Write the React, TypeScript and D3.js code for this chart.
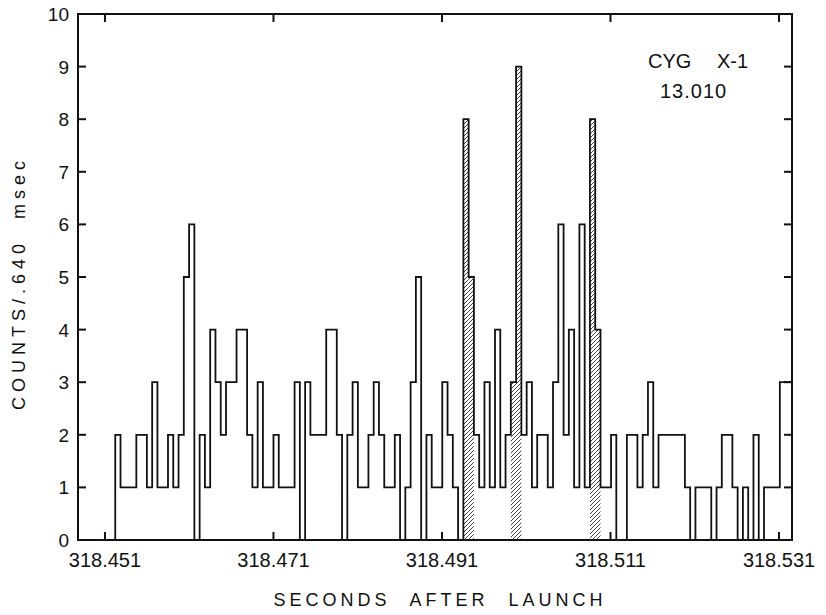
import { scaleLinear, line } from 'd3';

// counts per 0.640 ms bin
const counts = [
  2, 1, 1, 1, 2, 2, 1, 3, 1, 1,
  2, 1, 2, 5, 6, 0, 2, 1, 4, 3,
  2, 3, 3, 4, 4, 2, 1, 3, 1, 1,
  2, 1, 1, 1, 3, 0, 3, 2, 2, 2,
  4, 4, 2, 0, 2, 3, 1, 1, 2, 3,
  2, 1, 1, 2, 0, 1, 3, 5, 0, 2,
  1, 1, 3, 2, 1, 0, 8, 5, 2, 1,
  3, 1, 4, 1, 2, 3, 9, 2, 3, 1,
  2, 2, 1, 3, 6, 2, 4, 1, 6, 1,
  8, 4, 1, 1, 2, 0, 0, 2, 2, 1,
  2, 3, 1, 2, 2, 2, 2, 2, 1, 0,
  1, 1, 1, 0, 1, 2, 2, 1, 0, 1,
  0, 2, 0, 1, 1, 1, 3, 3,
];
// bins that are shaded (bursts)
const burstBins = [66, 67, 75, 76, 90, 91];
const startTime = 318.45222;
const binWidth = 0.000626;

const xTicks = [318.451, 318.471, 318.491, 318.511, 318.531];
const xTickLabels = ['318.451', '318.471', '318.491', '318.511', '318.531'];
const yTicks = [0, 1, 2, 3, 4, 5, 6, 7, 8, 9, 10];

const W = 826;
const H = 615;
const left = 78, right = 792, top = 14, bottom = 540;
const ink = '#111';

export default function App() {
  const x = scaleLinear().domain([318.4478, 318.53254]).range([left, right]);
  const y = scaleLinear().domain([0, 10]).range([bottom, top]);

  const pts: Array<[number, number]> = [[startTime, 0]];
  counts.forEach((c, i) => {
    const t0 = startTime + i * binWidth;
    pts.push([t0, c]);
    pts.push([t0 + binWidth, c]);
  });
  const stepPath = line<[number, number]>().x(d => x(d[0])).y(d => y(d[1]))(pts) || '';

  return (
    <svg width={W} height={H} style={{ position: 'absolute', left: 0, top: 0, background: '#fff' }}
      fontFamily="'Liberation Sans', Arial, sans-serif">
      <defs>
        <pattern id="hatch" patternUnits="userSpaceOnUse" width={4} height={4}>
          <path d="M-1,1 l2,-2 M0,4 l4,-4 M3,5 l2,-2" stroke={ink} strokeWidth={0.8} />
        </pattern>
      </defs>

      {burstBins.map(i => {
        const t0 = startTime + i * binWidth;
        return (
          <rect key={i} x={x(t0)} y={y(counts[i])} width={x(t0 + binWidth) - x(t0)}
            height={y(0) - y(counts[i])} fill="url(#hatch)" />
        );
      })}

      <path d={stepPath} fill="none" stroke={ink} strokeWidth={1.8} />

      {/* frame */}
      <rect x={left} y={top} width={right - left} height={bottom - top} fill="none" stroke={ink} strokeWidth={2} />

      {yTicks.map(v => (
        <g key={v}>
          <line x1={left} x2={left + 8} y1={y(v)} y2={y(v)} stroke={ink} strokeWidth={2} />
          <line x1={right - 8} x2={right} y1={y(v)} y2={y(v)} stroke={ink} strokeWidth={2} />
          <text x={69} y={y(v) + 7} textAnchor="end" fontSize={19} fill={ink}>{v}</text>
        </g>
      ))}

      {xTicks.map((v, i) => (
        <g key={v}>
          <line x1={x(v)} x2={x(v)} y1={bottom} y2={bottom - 8} stroke={ink} strokeWidth={2} />
          <line x1={x(v)} x2={x(v)} y1={top} y2={top + 8} stroke={ink} strokeWidth={2} />
          <text x={x(v)} y={567} textAnchor="middle" fontSize={20} fill={ink}>{xTickLabels[i]}</text>
        </g>
      ))}

      <text x={440} y={606} textAnchor="middle" fontSize={18} fill={ink}
        letterSpacing={4} wordSpacing={11}>SECONDS AFTER LAUNCH</text>
      <text transform="translate(25,283) rotate(-90)" textAnchor="middle" fontSize={18} fill={ink}
        letterSpacing={5} wordSpacing={10}>COUNTS/.640 msec</text>

      <text x={648} y={68} fontSize={20} fill={ink}>CYG</text>
      <text x={717} y={68} fontSize={20} fill={ink}>X-1</text>
      <text x={660} y={98} fontSize={20} fill={ink} letterSpacing={1}>13.010</text>
    </svg>
  );
}
